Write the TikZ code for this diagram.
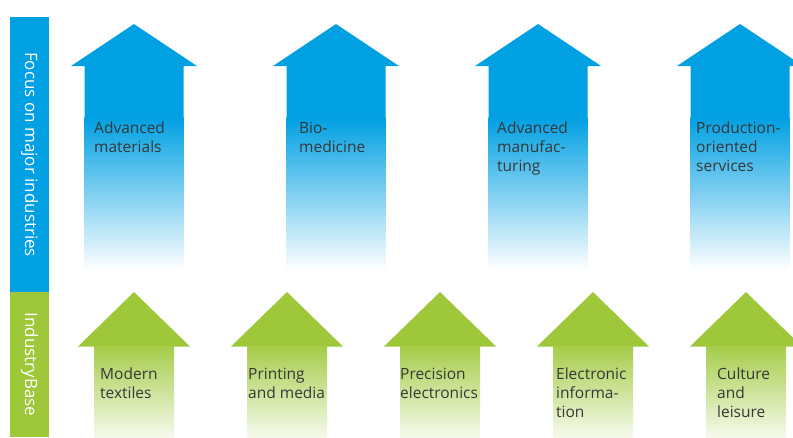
\documentclass[tikz,border=0pt]{standalone}
\usepackage{fontspec}
\setmainfont{Open Sans}
\definecolor{focusblue}{RGB}{0,160,227}
\definecolor{basegreen}{RGB}{158,200,58}
\definecolor{labelgray}{RGB}{55,55,55}
\tikzset{
	arrowtext/.style={anchor=north west, inner sep=0pt, align=left, text=labelgray, font=\fontsize{15.5}{19}\selectfont},
	bartext/.style={rotate=-90, inner sep=0pt, text=white, font=\fontsize{17}{20}\selectfont},
}
\begin{document}
\begin{tikzpicture}[x=1pt, y=-1pt]
	\useasboundingbox (0,0) rectangle (793,437);

	% side bars
	\fill[focusblue] (10,17) rectangle (49,292);
	\fill[basegreen] (10,292) rectangle (49,437);
	\node[bartext] (focus) at (29.5,154.5) {Focus on major industries};
	\node[bartext] (base)  at (29.5,364.5) {IndustryBase};

	% upper row
	\foreach \cx/\tx/\txt [count=\i] in {134/94/{Advanced\\materials}, 336/299/{Bio-\\medicine}, 538/497/{Advanced\\manufac-\\turing}, 740/696/{Production-\\oriented\\services}} {
		\fill[focusblue] (\cx-63,66) -- (\cx,24) -- (\cx+63,66) -- (\cx+49.5,66) -- (\cx+49.5,118) -- (\cx-49.5,118) -- (\cx-49.5,66) -- cycle;
		\shade[top color=focusblue, bottom color=white] (\cx-49.5,117.5) rectangle (\cx+49.5,270);
		\node[arrowtext] (b\i) at (\tx,122) {\txt};
	}

	% lower row
	\foreach \cx/\tx/\txt [count=\i] in {134/100/{Modern\\textiles}, 287/248/{Printing\\and media}, 440/400/{Precision\\electronics}, 593/556/{Electronic\\informa-\\tion}, 746/717/{Culture\\and\\leisure}} {
		\fill[basegreen] (\cx-56,346.5) -- (\cx,292) -- (\cx+56,346.5) -- cycle;
		\shade[top color=basegreen!92, bottom color=basegreen!10] (\cx-40,346) rectangle (\cx+40,437);
		\node[arrowtext] (g\i) at (\tx,367.5) {\txt};
	}
\end{tikzpicture}
\end{document}
